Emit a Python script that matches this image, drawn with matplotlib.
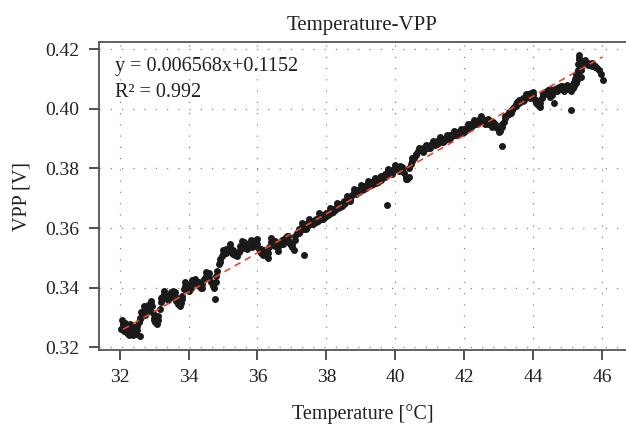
import matplotlib
matplotlib.use("Agg")
import matplotlib.pyplot as plt

plt.rcParams['font.family'] = ['Liberation Serif', 'DejaVu Serif']

# valores (temperatura en C, VPP en V)
temp = [
    32.05, 32.08, 32.10, 32.12, 32.15, 32.18, 32.20, 32.23, 32.26, 32.26, 32.30, 32.33, 32.36,
    32.40, 32.44, 32.47, 32.50, 32.55, 32.58, 32.58, 32.62, 32.65, 32.70, 32.74, 32.78, 32.82,
    32.86, 32.90, 32.93, 32.96, 33.00, 33.04, 33.08,
    33.12, 33.16, 33.20, 33.24, 33.28, 33.32, 33.36, 33.40, 33.45, 33.50, 33.55, 33.60, 33.65,
    33.70, 33.74, 33.78, 33.82, 33.86, 33.90, 33.94, 33.98,
    34.02, 34.06, 34.10, 34.15, 34.20, 34.25, 34.30, 34.35, 34.40, 34.45, 34.50, 34.55, 34.60,
    34.65, 34.70, 34.74, 34.78, 34.80, 34.84, 34.88, 34.92, 34.96,
    35.00, 35.05, 35.10, 35.15, 35.20, 35.25, 35.30, 35.35, 35.40, 35.45, 35.50, 35.55, 35.60,
    35.65, 35.70, 35.75, 35.80, 35.85, 35.90, 35.95, 36.00,
    36.05, 36.10, 36.15, 36.20, 36.25, 36.30, 36.35, 36.40, 36.45, 36.50, 36.55, 36.60, 36.65,
    36.70, 36.75, 36.80, 36.85, 36.90, 36.95, 37.00, 37.05, 37.35,
    37.10, 37.15, 37.20, 37.25, 37.30, 37.35, 37.40, 37.45, 37.50, 37.55, 37.60, 37.65, 37.70,
    37.75, 37.80, 37.85, 37.90, 37.95, 38.00,
    38.05, 38.10, 38.15, 38.20, 38.25, 38.30, 38.35, 38.40, 38.45, 38.50, 38.55, 38.60, 38.65,
    38.70, 38.75, 38.80, 38.85, 38.90, 38.95,
    39.00, 39.05, 39.10, 39.15, 39.20, 39.25, 39.30, 39.35, 39.40, 39.45, 39.50, 39.55, 39.60,
    39.65, 39.70, 39.75, 39.76, 39.80, 39.85, 39.90, 39.95, 40.00,
    40.05, 40.10, 40.15, 40.20, 40.25, 40.30, 40.35, 40.40, 40.45, 40.50, 40.55, 40.60, 40.65,
    40.70, 40.75, 40.80, 40.85, 40.90, 40.95, 41.00,
    41.05, 41.10, 41.15, 41.20, 41.25, 41.30, 41.35, 41.40, 41.45, 41.50, 41.55, 41.60, 41.65,
    41.70, 41.75, 41.80, 41.85, 41.90, 41.95, 42.00,
    42.05, 42.10, 42.15, 42.20, 42.25, 42.30, 42.35, 42.40, 42.45, 42.50, 42.55, 42.60, 42.65,
    42.70, 42.75, 42.80, 42.85, 42.90, 42.95, 43.00, 43.05, 43.10,
    43.10, 43.15, 43.20, 43.25, 43.30, 43.35, 43.40, 43.45, 43.50, 43.55, 43.60, 43.65, 43.70,
    43.75, 43.80, 43.85, 43.90, 43.95, 44.00,
    44.05, 44.10, 44.15, 44.20, 44.25, 44.30, 44.35, 44.40, 44.45, 44.50, 44.55, 44.60, 44.65,
    44.70, 44.75, 44.80, 44.85, 44.90, 44.95, 45.00, 45.05, 45.10, 45.10, 45.12, 45.15, 45.18,
    45.20, 45.22, 45.24, 45.26, 45.28, 45.30, 45.32, 45.33, 45.34, 45.36, 45.38, 45.40, 45.42,
    45.45, 45.50, 45.55, 45.60, 45.65, 45.70, 45.75, 45.80, 45.85, 45.92, 45.98, 46.02,
]
vpp = [
    0.3262, 0.3290, 0.3275, 0.3255, 0.3283, 0.3268, 0.3248, 0.3272, 0.3258, 0.3240, 0.3265, 0.3250, 0.3270,
    0.3255, 0.3262, 0.3245, 0.3272, 0.3285, 0.3300, 0.3237, 0.3318, 0.3305, 0.3325, 0.3310, 0.3330, 0.3342,
    0.3328, 0.3355, 0.3340, 0.3315, 0.3300, 0.3285, 0.3278,
    0.3305, 0.3330, 0.3352, 0.3368, 0.3378, 0.3365, 0.3372, 0.3360, 0.3375, 0.3385, 0.3390, 0.3372, 0.3355,
    0.3345, 0.3338, 0.3350, 0.3372, 0.3395, 0.3405, 0.3412, 0.3400,
    0.3410, 0.3398, 0.3415, 0.3422, 0.3430, 0.3418, 0.3405, 0.3400, 0.3412, 0.3430, 0.3440, 0.3448, 0.3435,
    0.3418, 0.3405, 0.3400, 0.3362, 0.3420, 0.3455, 0.3478, 0.3495, 0.3505,
    0.3512, 0.3520, 0.3530, 0.3522, 0.3535, 0.3518, 0.3525, 0.3510, 0.3505, 0.3520, 0.3540, 0.3556, 0.3540,
    0.3532, 0.3545, 0.3535, 0.3548, 0.3538, 0.3552, 0.3560, 0.3548,
    0.3530, 0.3518, 0.3510, 0.3525, 0.3512, 0.3500, 0.3535, 0.3565, 0.3555, 0.3540, 0.3548, 0.3535, 0.3550,
    0.3560, 0.3548, 0.3568, 0.3575, 0.3560, 0.3545, 0.3535, 0.3528, 0.3511,
    0.3560, 0.3585, 0.3598, 0.3590, 0.3605, 0.3598, 0.3612, 0.3605, 0.3620, 0.3612, 0.3625, 0.3618, 0.3632,
    0.3625, 0.3638, 0.3630, 0.3645, 0.3638, 0.3650,
    0.3645, 0.3658, 0.3650, 0.3665, 0.3660, 0.3675, 0.3668, 0.3682, 0.3675, 0.3690, 0.3685, 0.3698, 0.3705,
    0.3698, 0.3712, 0.3720, 0.3715, 0.3728, 0.3722,
    0.3735, 0.3728, 0.3742, 0.3736, 0.3748, 0.3742, 0.3755, 0.3748, 0.3760, 0.3752, 0.3765, 0.3770, 0.3762,
    0.3775, 0.3782, 0.3778, 0.3678, 0.3790, 0.3785, 0.3795, 0.3790, 0.3800,
    0.3805, 0.3798, 0.3808, 0.3795, 0.3785, 0.3772, 0.3765, 0.3800, 0.3815, 0.3825, 0.3835, 0.3848, 0.3858,
    0.3862, 0.3866, 0.3870, 0.3862, 0.3875, 0.3868, 0.3880,
    0.3875, 0.3885, 0.3880, 0.3892, 0.3885, 0.3896, 0.3890, 0.3900, 0.3895, 0.3905, 0.3900, 0.3912, 0.3908,
    0.3918, 0.3912, 0.3922, 0.3915, 0.3925, 0.3920, 0.3932,
    0.3928, 0.3940, 0.3935, 0.3950, 0.3945, 0.3955, 0.3950, 0.3962, 0.3958, 0.3968, 0.3962, 0.3955, 0.3962,
    0.3950, 0.3958, 0.3948, 0.3955, 0.3942, 0.3935, 0.3930, 0.3925, 0.3876,
    0.3940, 0.3955, 0.3968, 0.3980, 0.3990, 0.3985, 0.3995, 0.4005, 0.4015, 0.4022, 0.4018, 0.4028, 0.4035,
    0.4030, 0.4042, 0.4048, 0.4040, 0.4052, 0.4045,
    0.4030, 0.4020, 0.4012, 0.4005, 0.4035, 0.4045, 0.4055, 0.4050, 0.4062, 0.4038, 0.4045, 0.4020, 0.4068,
    0.4060, 0.4072, 0.4065, 0.4075, 0.4068, 0.4078, 0.4065, 0.4072, 0.4060, 0.3996, 0.4080, 0.4070, 0.4090,
    0.4075, 0.4100, 0.4085, 0.4115, 0.4095, 0.4130, 0.4150, 0.4168, 0.4182, 0.4160, 0.4140, 0.4105, 0.4150,
    0.4158, 0.4155, 0.4152, 0.4155, 0.4150, 0.4145, 0.4148, 0.4140, 0.4138, 0.4130, 0.4118, 0.4095,
]

# segunda capa de puntos (borde superior / inferior de la banda)
temp_b = [
    32.1, 32.2, 32.3, 32.4, 32.5, 32.6, 32.7, 32.8, 32.9, 33.0, 33.1, 33.2, 33.3, 33.4, 33.5,
    33.6, 33.7, 33.8, 33.9, 34.0, 34.1, 34.2, 34.3, 34.4, 34.5, 34.6, 34.7, 34.8, 34.9, 35.0,
    35.1, 35.2, 35.3, 35.4, 35.5, 35.6, 35.7, 35.8, 35.9, 36.0, 36.1, 36.2, 36.3, 36.4, 36.5,
    36.6, 36.7, 36.8, 36.9, 37.0, 37.1, 37.2, 37.3, 37.4, 37.5, 37.6, 37.7, 37.8, 37.9, 38.0,
    38.1, 38.2, 38.3, 38.4, 38.5, 38.6, 38.7, 38.8, 38.9, 39.0, 39.1, 39.2, 39.3, 39.4, 39.5,
    39.6, 39.7, 39.8, 39.9, 40.0, 40.1, 40.2, 40.3, 40.4, 40.5, 40.6, 40.7, 40.8, 40.9, 41.0,
    41.1, 41.2, 41.3, 41.4, 41.5, 41.6, 41.7, 41.8, 41.9, 42.0, 42.1, 42.2, 42.3, 42.4, 42.5,
    42.6, 42.7, 42.8, 42.9, 43.0, 43.1, 43.2, 43.3, 43.4, 43.5, 43.6, 43.7, 43.8, 43.9, 44.0,
    44.1, 44.2, 44.3, 44.4, 44.5, 44.6, 44.7, 44.8, 44.9, 45.0, 45.1, 45.2, 45.25, 45.3, 45.35,
    45.4, 45.5, 45.6, 45.7, 45.8,
]
vpp_b = [
    0.3278, 0.3262, 0.3278, 0.3240, 0.3258, 0.3295, 0.3338, 0.3318, 0.3345, 0.3290, 0.3292, 0.3365, 0.3388, 0.3372, 0.3370,
    0.3385, 0.3358, 0.3362, 0.3418, 0.3390, 0.3425, 0.3415, 0.3420, 0.3398, 0.3452, 0.3450, 0.3415, 0.3440, 0.3485, 0.3525,
    0.3518, 0.3545, 0.3512, 0.3518, 0.3528, 0.3552, 0.3530, 0.3560, 0.3540, 0.3562, 0.3530, 0.3512, 0.3515, 0.3552, 0.3555,
    0.3522, 0.3548, 0.3555, 0.3572, 0.3548, 0.3572, 0.3585, 0.3618, 0.3598, 0.3630, 0.3612, 0.3620, 0.3650, 0.3630, 0.3640,
    0.3668, 0.3655, 0.3685, 0.3670, 0.3680, 0.3708, 0.3690, 0.3730, 0.3718, 0.3745, 0.3730, 0.3758, 0.3745, 0.3768, 0.3755,
    0.3775, 0.3770, 0.3798, 0.3782, 0.3810, 0.3790, 0.3805, 0.3765, 0.3770, 0.3835, 0.3845, 0.3868, 0.3855, 0.3880, 0.3868,
    0.3892, 0.3882, 0.3905, 0.3890, 0.3912, 0.3902, 0.3925, 0.3912, 0.3932, 0.3922, 0.3948, 0.3940, 0.3962, 0.3952, 0.3975,
    0.3948, 0.3965, 0.3940, 0.3950, 0.3922, 0.3948, 0.3975, 0.3982, 0.4000, 0.4008, 0.4030, 0.4025, 0.4050, 0.4035, 0.4055,
    0.4028, 0.4018, 0.4052, 0.4058, 0.4065, 0.4058, 0.4070, 0.4078, 0.4060, 0.4080, 0.4068, 0.4085, 0.4105, 0.4120, 0.4170,
    0.4130, 0.4162, 0.4148, 0.4152, 0.4145,
]

# ajuste lineal mostrado en el grafico
pendiente = 0.006568
ordenada = 0.1152
r2 = 0.992
x_ajuste = [32.1, 46.0]

fig = plt.figure(figsize=(6.26, 4.32), dpi=100)
ax = fig.add_axes([99 / 626, 1 - 350 / 432, 1 - 99 / 626, (350 - 42) / 432])

ax.plot(temp, vpp, 'o', color='#1a1a1a', markersize=5.0, markeredgewidth=0, zorder=3)
ax.plot(temp_b, vpp_b, 'o', color='#1a1a1a', markersize=5.0, markeredgewidth=0, zorder=3)
y_ajuste = [pendiente * x + ordenada for x in x_ajuste]
ax.plot(x_ajuste, y_ajuste, '--', color='#e8472e', linewidth=1.2, dashes=(4, 3), zorder=4)

ax.set_xlim(31.4, 46.7)
ax.set_ylim(0.3191, 0.4224)
ax.set_xticks([32, 34, 36, 38, 40, 42, 44, 46])
ax.set_yticks([0.32, 0.34, 0.36, 0.38, 0.40, 0.42])
ax.set_yticklabels(['0.32', '0.34', '0.36', '0.38', '0.40', '0.42'])

ax.grid(True, color='#888888', linestyle=(0, (1, 8)), linewidth=0.9)
ax.set_axisbelow(True)
ax.spines['right'].set_visible(False)
for s in ['left', 'top', 'bottom']:
    ax.spines[s].set_color('#555555')
    ax.spines[s].set_linewidth(1.3)
ax.tick_params(direction='out', length=7, width=1.2, colors='#333333', labelsize=14,
               labelcolor='#222222', pad=7)

ax.text(31.86, 0.4143, 'y = 0.006568x+0.1152', fontsize=14.5, color='#222222', va='center')
ax.text(31.86, 0.4053, f'R² = {r2}', fontsize=14.5, color='#222222', va='center')

ax.set_title('Temperature-VPP', fontsize=15, color='#222222', pad=9)
ax.set_xlabel('Temperature [°C]', fontsize=14.5, color='#222222', labelpad=13)
ax.set_ylabel('VPP [V]', fontsize=14.5, color='#222222', labelpad=10)

fig.savefig('out.png', dpi=100)
